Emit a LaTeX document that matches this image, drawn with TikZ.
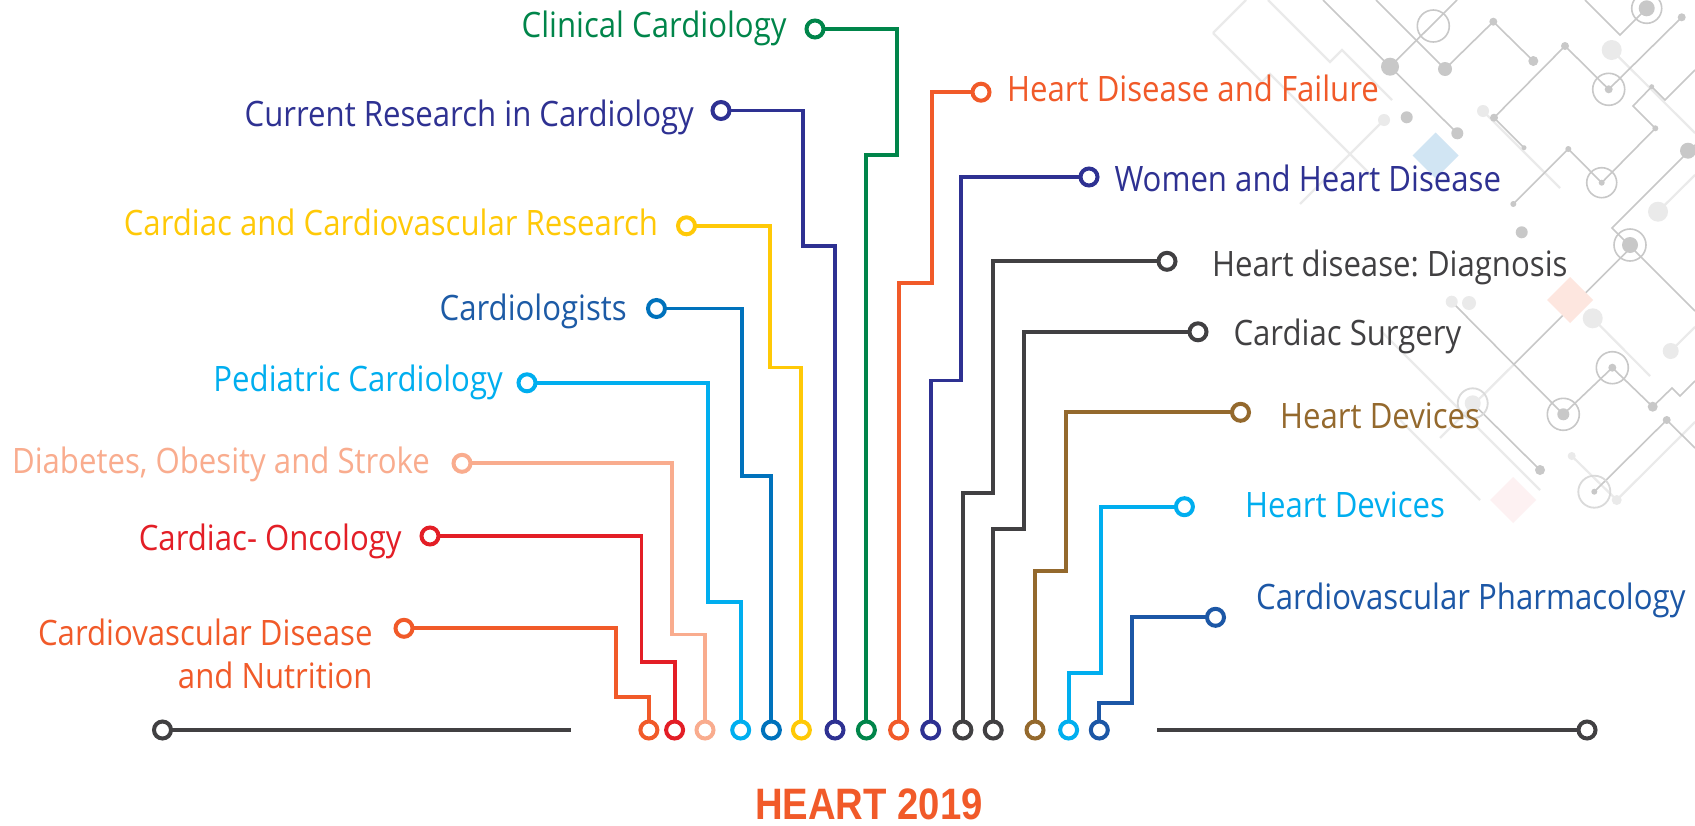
\documentclass[tikz,border=0pt]{standalone}
\usepackage{fontspec}
\newfontfamily\lab[FakeStretch=0.89]{Open Sans}
\newfontfamily\ttl[FakeStretch=0.87]{Liberation Sans}
\frenchspacing
\definecolor{corange}{HTML}{F15A29}
\definecolor{cred}{HTML}{E31E26}
\definecolor{cpink}{HTML}{F9AC8E}
\definecolor{clblue}{HTML}{00AEEF}
\definecolor{cblue}{HTML}{0072BC}
\definecolor{cbluetext}{HTML}{1D5BA6}
\definecolor{cyellow}{HTML}{FFC907}
\definecolor{cnavy}{HTML}{2E3192}
\definecolor{cgreen}{HTML}{00854A}
\definecolor{cgray}{HTML}{414042}
\definecolor{cbrown}{HTML}{94692D}
\definecolor{cpharm}{HTML}{1C57A6}
\definecolor{bgline}{HTML}{C8C8C8}
\definecolor{bgfaint}{HTML}{EAEAEA}
\begin{document}
\begin{tikzpicture}[x=1pt,y=-1pt,
  pin/.style={circle, draw, fill=white, line width=4pt, minimum size=17pt, inner sep=0pt, outer sep=0pt},
  lbl/.style={font=\lab\fontsize{35}{40}\selectfont, inner sep=0pt},
  trace/.style={line width=3.9pt},
  bgl/.style={draw=bgline, line width=1.6pt},
  bgf/.style={draw=bgfaint, line width=2.2pt},
  ring/.style={draw=bgline, line width=1.6pt},
  fring/.style={draw=bgfaint!85!gray, line width=1.8pt}]
\useasboundingbox (0,0) rectangle (1695,825);
\fill[white] (0,0) rectangle (1695,825);

% ---------- background circuit pattern ----------
\begin{scope}
\draw[bgf] (1213,33)--(1246,0);
\draw[bgf] (1213,33)--(1262,82)--(1270,74)--(1375,179);
\draw[bgf] (1268,0)--(1330,62)--(1342,50)--(1392,100);
\draw[bgf] (1380,330)--(1540,490);
\draw[bgf] (1440,438)--(1513.3,365);
\draw[bgf] (1592.7,318.3)--(1650,376);
\draw[bgf] (1670.7,351)--(1695,327);
\draw[bgf] (1384,120)--(1300,204);
\draw[bgf] (1483,111)--(1560,188);
\draw[bgf] (1611.7,50)--(1695,133);
\draw[bgf] (1571.7,456)--(1616.7,500)--(1695,422);
\draw[bgf] (1658,211.7)--(1695,175);
\draw[bgf] (1400,420)--(1480,500);
\draw[bgl] (1323,0)--(1390,66.7)--(1457,0);
\draw[bgl] (1390,66.7)--(1457.3,133.3);
\draw[bgl] (1376,0)--(1445,69)--(1493.3,21.7)--(1533.3,61);
\draw[bgl] (1494,117.7)--(1565,46)--(1608.7,89.3)--(1681.7,17.3);
\draw[bgl] (1494,117.7)--(1524,147.7);
\draw[bgl] (1513.3,204)--(1568.3,149)--(1601.7,182.7)--(1655.3,128.3)--(1633,106)--(1651.7,86.7)--(1665,100)--(1695,70);
\draw[bgl] (1585,0)--(1620,35)--(1646.7,8.3);
\draw[bgl] (1695,145)--(1612,228)--(1695,311);
\draw[bgl] (1513.3,365)--(1631.7,246.7);
\draw[bgl] (1451.7,301.7)--(1563.3,414.3)--(1612.3,367.7)--(1652.7,406.7)--(1672,388)--(1680,396)--(1695,381);
\draw[bgl] (1666.7,420)--(1594.3,491.7);
\draw[bgl] (1666.7,420)--(1695,448);
\draw[bgl] (1540,470)--(1472.7,403.3);
% diamonds
\fill[cblue!18!white] (1435.5,132.5)--(1458.5,155.5)--(1435.5,178.5)--(1412.5,155.5)--cycle;
\fill[corange!15!white] (1570,277)--(1593,300)--(1570,323)--(1547,300)--cycle;
\fill[cred!6!white] (1513,477)--(1536,500)--(1513,523)--(1490,500)--cycle;
% faint dots
\foreach \x/\y/\r in {1611.7/50/10,1483/111/6,1384/120/6,1658/211.7/10,1451.7/301.7/6,1469/303/7,1592.7/318.3/10,1670.7/351/8,1472.7/403.3/8,1616.7/500/5,1571.7/456/4}
  \fill[bgfaint] (\x,\y) circle (\r);
% dots
\foreach \x/\y/\r in {1390/66.7/9,1445/69/7,1493.3/21.7/4,1533.3/61/5,1565/46/4,1608.7/89.3/4,1646.7/8.3/8,1681.7/17.3/4,1494/117.7/4,1524/147.7/2.5,1568.3/149/3,1601.7/182.7/3,1651.7/86.7/2.5,1655.3/128.3/3,1688/150.7/8,1513.3/204/3,1406.7/117.3/6,1457.3/133.3/6,1521.7/232.3/6,1630/245/8,1612.3/367.7/4,1563.3/414.3/6,1652.7/406.7/5,1666.7/420/4,1540/470/5,1594.3/491.7/3}
  \fill[bgline] (\x,\y) circle (\r);
% rings
\foreach \x/\y/\r in {1433.3/26/16,1608.7/89.3/16,1646.7/8.3/15,1601.7/182.7/15,1630/245/16,1612.3/367.7/16,1563.3/414.3/16}
  \draw[ring] (\x,\y) circle (\r);
\foreach \x/\y/\r in {1472.7/403.3/15,1594.3/491.7/16}
  \draw[fring] (\x,\y) circle (\r);
\end{scope}

% ---------- bottom pins ----------
\node[pin, draw=corange] (b1) at (648.9,730) {};
\node[pin, draw=cred] (b2) at (674.6,730) {};
\node[pin, draw=cpink] (b3) at (705,730) {};
\node[pin, draw=clblue] (b4) at (740.7,730) {};
\node[pin, draw=cblue] (b5) at (771.4,730) {};
\node[pin, draw=cyellow] (b6) at (801.4,730) {};
\node[pin, draw=cnavy] (b7) at (835,730) {};
\node[pin, draw=cgreen] (b8) at (866.4,730) {};
\node[pin, draw=corange] (b9) at (898.6,730) {};
\node[pin, draw=cnavy] (b10) at (930.7,730) {};
\node[pin, draw=cgray] (b11) at (962.9,730) {};
\node[pin, draw=cgray] (b12) at (993.2,730) {};
\node[pin, draw=cbrown] (b13) at (1035,730) {};
\node[pin, draw=clblue] (b14) at (1068.6,730) {};
\node[pin, draw=cpharm] (b15) at (1099.3,730) {};

% ---------- top pins ----------
\node[pin, draw=cgreen] (clin) at (815,29) {};
\node[pin, draw=cnavy] (curr) at (721,110.5) {};
\node[pin, draw=cyellow] (ccr) at (686.5,225.8) {};
\node[pin, draw=cblue] (cardio) at (656.5,308.5) {};
\node[pin, draw=clblue] (ped) at (527,382.8) {};
\node[pin, draw=cpink] (diab) at (462,463.3) {};
\node[pin, draw=cred] (onco) at (430,536) {};
\node[pin, draw=corange] (cvd) at (404,628.3) {};
\node[pin, draw=corange] (hdf) at (981,92.2) {};
\node[pin, draw=cnavy] (women) at (1089,177) {};
\node[pin, draw=cgray] (diag) at (1167,261.3) {};
\node[pin, draw=cgray] (surg) at (1198,331.8) {};
\node[pin, draw=cbrown] (hdev) at (1240.5,412.3) {};
\node[pin, draw=clblue] (hdevb) at (1184.4,506.7) {};
\node[pin, draw=cpharm] (pharm) at (1215.5,617.3) {};

% ---------- base line ----------
\node[pin, draw=cgray] (bl) at (162.5,730) {};
\node[pin, draw=cgray] (br) at (1587,730) {};
\coordinate (ble) at (571,730);
\coordinate (brs) at (1157.3,730);
\draw[trace, cgray, line width=4.2pt] (bl) -- (ble);
\draw[trace, cgray, line width=4.2pt] (brs) -- (br);

% ---------- traces ----------
\draw[trace, cgreen]  (clin)   -| (896.7,155)   -| (b8);
\draw[trace, cnavy]   (curr)   -| (803,246.3)   -| (b7);
\draw[trace, cyellow] (ccr)    -| (770,367.5)   -| (b6);
\draw[trace, cblue]   (cardio) -| (741.6,475.6) -| (b5);
\draw[trace, clblue]  (ped)    -| (708,602)     -| (b4);
\draw[trace, cpink]   (diab)   -| (672,634.5)   -| (b3);
\draw[trace, cred]    (onco)   -| (641.5,662.3) -| (b2);
\draw[trace, corange] (cvd)    -| (616,697.3)   -| (b1);
\draw[trace, corange] (hdf)    -| (932.3,283)   -| (b9);
\draw[trace, cnavy]   (women)  -| (961,380.5)   -| (b10);
\draw[trace, cgray]   (diag)   -| (993.4,492.8) -| (b11);
\draw[trace, cgray]   (surg)   -| (1024,529)    -| (b12);
\draw[trace, cbrown]  (hdev)   -| (1066.2,570.7) -| (b13);
\draw[trace, clblue]  (hdevb)  -| (1100.7,673.3) -| (b14);
\draw[trace, cpharm]  (pharm)  -| (1131.8,703.3) -| (b15);

% ---------- labels ----------
\node[lbl, text=cgreen, anchor=base east] (clinT) at (786.7,37.3) {Clinical Cardiology};
\node[lbl, text=cnavy, anchor=base east] (currT) at (694,126) {Current Research in Cardiology};
\node[lbl, text=cyellow, anchor=base east] (ccrT) at (658.3,235) {Cardiac and Cardiovascular Research};
\node[lbl, text=cbluetext, anchor=base east] (cardioT) at (627,320.7) {Cardiologists};
\node[lbl, text=clblue, anchor=base east] (pedT) at (503,391.7) {Pediatric Cardiology};
\node[lbl, text=cpink, anchor=base east] (diabT) at (430,473.3) {Diabetes, Obesity and Stroke};
\node[lbl, text=cred, anchor=base east] (oncoT) at (401.8,550) {Cardiac- Oncology};
\node[lbl, text=corange, anchor=base east] (cvdT) at (372.8,645) {Cardiovascular Disease};
\node[lbl, text=corange, anchor=base east] (cvdT2) at (372.8,688.3) {and Nutrition};
\node[lbl, text=corange, anchor=base west] (hdfT) at (1007,101.7) {Heart Disease and Failure};
\node[lbl, text=cnavy, anchor=base west] (womenT) at (1114.3,191) {Women and Heart Disease};
\node[lbl, text=cgray, anchor=base west] (diagT) at (1211.9,276.7) {Heart disease: Diagnosis};
\node[lbl, text=cgray, anchor=base west] (surgT) at (1233.3,345) {Cardiac Surgery};
\node[lbl, text=cbrown, anchor=base west] (hdevT) at (1280,428.3) {Heart Devices};
\node[lbl, text=clblue, anchor=base west] (hdevbT) at (1245,517.3) {Heart Devices};
\node[lbl, text=cpharm, anchor=base west] (pharmT) at (1256,609.3) {Cardiovascular Pharmacology};

\node[font=\ttl\bfseries\fontsize{44}{48}\selectfont, text=corange, anchor=base, inner sep=0pt] (title) at (869,819) {HEART 2019};
\end{tikzpicture}
\end{document}
